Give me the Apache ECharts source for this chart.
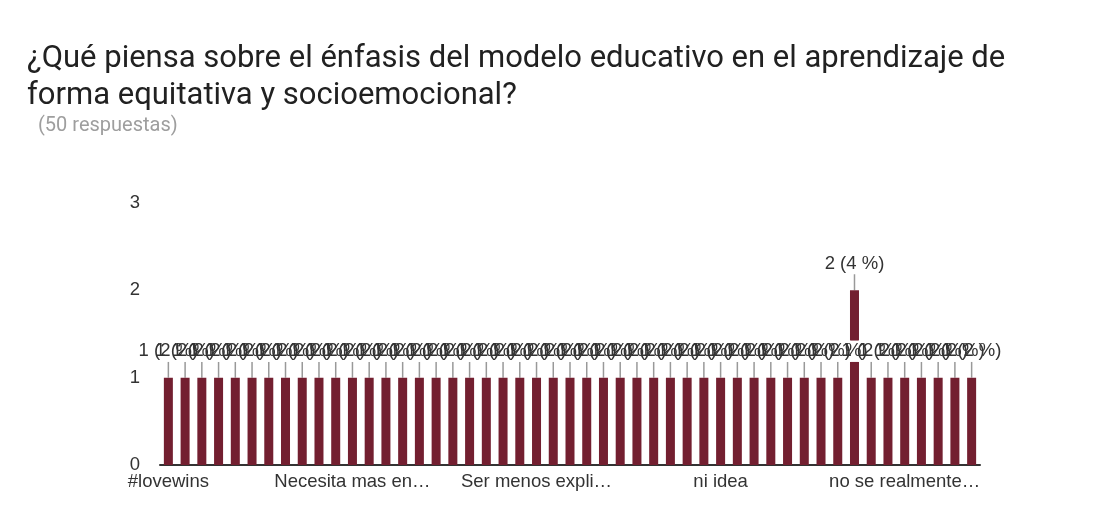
<!DOCTYPE html>
<html>
<head>
<meta charset="utf-8">
<script src="https://cdn.jsdelivr.net/npm/echarts@6/dist/echarts.min.js"></script>
<style>
  html, body { margin: 0; padding: 0; background: #fff; }
  #chart { width: 1114px; height: 510px; }
</style>
</head>
<body>
<div id="chart"></div>
<script>
// respuestas (orden alfabetico, como en el formulario)
var categorias = [
  '#lovewins', 'Bien', 'Bueno', 'Creo que es bueno', 'Es adecuado', 'Es bueno',
  'Es importante', 'Es necesario', 'Esta bien', 'Excelente', 'Me parece bien',
  'Necesita mas en…', 'No estoy de acuerdo', 'No lo conozco', 'No se', 'Poco claro',
  'Que es bueno', 'Que es importante', 'Que falta', 'Regular', 'Se debe mejorar',
  'Ser mas claro', 'Ser menos expli…', 'Solo es teoria', 'Tiene deficiencias',
  'Todo bien', 'Util', 'adecuado', 'bien', 'bueno', 'es bueno', 'excelente',
  'muy bien', 'ni idea', 'no aplica', 'no es claro', 'no es suficiente',
  'no esta claro', 'no lo conozco', 'no lo se', 'no opino', 'no se', 'no se como',
  'no se mucho', 'no se realmente…', 'poco', 'regular', 'tiene fallas', 'util'
]
var valores = [
  1, 1, 1, 1, 1, 1, 1, 1, 1, 1, 1, 1, 1, 1, 1, 1, 1, 1, 1, 1,
  1, 1, 1, 1, 1, 1, 1, 1, 1, 1, 1, 1, 1, 1, 1, 1, 1, 1, 1, 1,
  1, 2, 1, 1, 1, 1, 1, 1, 1
]
var totalRespuestas = 50
var ticksY = [0, 1, 2, 3]

var fuente = 'Liberation Sans'

function etiqueta(p) {
  return p.value + ' (' + Math.round(p.value / totalRespuestas * 100) + ' %)'
}

var chart = echarts.init(document.getElementById('chart'))
chart.setOption({
  animation: false,
  title: [
    {
      text: '¿Qué piensa sobre el énfasis del modelo educativo en el aprendizaje de\nforma equitativa y socioemocional?',
      left: 22,
      top: 36,
      textStyle: {
        fontFamily: 'Roboto',
        fontWeight: 'normal',
        fontSize: 31,
        lineHeight: 37,
        color: '#212121'
      }
    },
    {
      text: '(' + totalRespuestas + ' respuestas)',
      left: 33,
      top: 111,
      textStyle: {
        fontFamily: 'Roboto',
        fontWeight: 'normal',
        fontSize: 20,
        color: '#9e9e9e'
      }
    }
  ],
  grid: {
    left: 160,
    right: 134,
    top: 203,
    bottom: 45
  },
  xAxis: {
    type: 'category',
    data: categorias,
    axisTick: { show: false },
    axisLine: {
      lineStyle: { color: '#333', width: 2 }
    },
    axisLabel: {
      interval: 10,
      color: '#333',
      fontFamily: fuente,
      fontSize: 18.5,
      margin: 7
    }
  },
  yAxis: {
    type: 'value',
    min: ticksY[0],
    max: ticksY[ticksY.length - 1],
    interval: 1,
    splitLine: { show: false },
    axisLine: { show: false },
    axisTick: { show: false },
    axisLabel: {
      color: '#333',
      fontFamily: fuente,
      fontSize: 18.5,
      margin: 20
    }
  },
  series: [
    {
      // barras con el fondo blanco de las etiquetas
      type: 'bar',
      data: valores,
      barWidth: 9,
      barGap: '-100%',
      itemStyle: { color: '#731f30' },
      label: {
        show: true,
        position: 'top',
        distance: 5,
        color: '#fff',
        fontFamily: fuente,
        fontSize: 18.5,
        backgroundColor: '#fff',
        padding: [1, 0],
        formatter: etiqueta
      },
      labelLayout: { dy: -11 }
    },
    {
      // texto de las etiquetas y lineas guia, encima de los fondos
      type: 'bar',
      data: valores,
      barWidth: 9,
      barGap: '-100%',
      silent: true,
      itemStyle: { color: 'rgba(0,0,0,0)' },
      label: {
        show: true,
        position: 'top',
        distance: 5,
        color: '#333',
        fontFamily: fuente,
        fontSize: 18.5,
        padding: [1, 0],
        formatter: etiqueta
      },
      labelLayout: { dy: -11 },
      labelLine: {
        show: true,
        lineStyle: { color: '#999', width: 1.5 }
      }
    }
  ]
})
</script>
</body>
</html>
